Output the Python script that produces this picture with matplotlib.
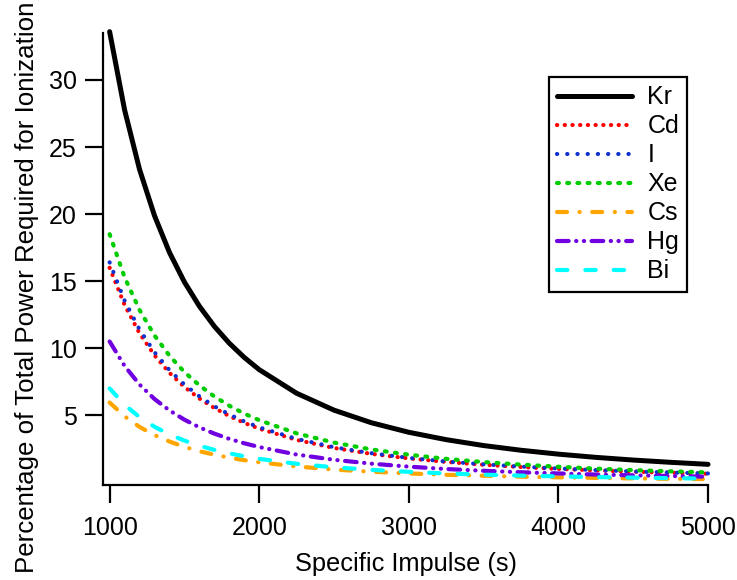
import matplotlib
matplotlib.use("Agg")
import matplotlib.pyplot as plt

plt.rcParams["font.family"] = ["Liberation Sans", "DejaVu Sans"]

# specific impulse (s)
isp = [1000, 1100, 1200, 1300, 1400, 1500, 1600, 1700, 1800, 1900, 2000,
       2250, 2500, 2750, 3000, 3250, 3500, 3750, 4000, 4250, 4500, 4750, 5000]

# percentage of total power required for ionization
kr = [33.6, 27.77, 23.33, 19.88, 17.14, 14.93, 13.13, 11.63, 10.37, 9.31, 8.40,
      6.64, 5.38, 4.44, 3.73, 3.18, 2.74, 2.39, 2.10, 1.86, 1.66, 1.49, 1.34]
cd = [16.0, 13.22, 11.11, 9.47, 8.16, 7.11, 6.25, 5.54, 4.94, 4.43, 4.00,
      3.16, 2.56, 2.12, 1.78, 1.52, 1.31, 1.14, 1.00, 0.89, 0.79, 0.71, 0.64]
iod = [16.4, 13.55, 11.39, 9.70, 8.37, 7.29, 6.41, 5.67, 5.06, 4.54, 4.10,
       3.24, 2.62, 2.17, 1.82, 1.55, 1.34, 1.17, 1.03, 0.91, 0.81, 0.73, 0.66]
xe = [18.5, 15.29, 12.85, 10.95, 9.44, 8.22, 7.23, 6.40, 5.71, 5.12, 4.63,
      3.65, 2.96, 2.45, 2.06, 1.75, 1.51, 1.32, 1.16, 1.02, 0.91, 0.82, 0.74]
cs = [5.95, 4.92, 4.13, 3.52, 3.04, 2.64, 2.32, 2.06, 1.84, 1.65, 1.49,
      1.18, 0.95, 0.79, 0.66, 0.56, 0.49, 0.42, 0.37, 0.33, 0.29, 0.26, 0.24]
hg = [10.5, 8.68, 7.29, 6.21, 5.36, 4.67, 4.10, 3.63, 3.24, 2.91, 2.63,
      2.07, 1.68, 1.39, 1.17, 0.99, 0.86, 0.75, 0.66, 0.58, 0.52, 0.47, 0.42]
bi = [7.0, 5.78, 4.86, 4.14, 3.57, 3.11, 2.73, 2.42, 2.16, 1.94, 1.75,
      1.38, 1.12, 0.93, 0.78, 0.66, 0.57, 0.50, 0.44, 0.39, 0.35, 0.31, 0.28]

series = [
    ("Kr", kr, "black", None, 3.6),
    ("Cd", cd, "#ff0000", (0.05, 1.8), 3.0),
    ("I", iod, "#1030d0", (0.05, 2.4), 3.0),
    ("Xe", xe, "#00cc00", (0.45, 2.0), 3.0),
    ("Cs", cs, "#ffa500", (2.4, 3.0, 0.05, 3.0), 3.0),
    ("Hg", hg, "#7000e0", (2.8, 1.8, 0.05, 1.8, 0.05, 1.8), 3.0),
    ("Bi", bi, "#00ffff", (2.5, 4.3), 3.0),
]

fig = plt.figure(figsize=(7.37, 5.8), dpi=100)
ax = fig.add_axes([0.1398, 0.1638, 0.8209, 0.7793])

for name, y, col, dash, lw in series:
    ln, = ax.plot(isp, y, color=col, lw=lw, label=name,
                  solid_capstyle="round", dash_capstyle="round", clip_on=False)
    if dash is not None:
        ln.set_dashes(dash)

ax.set_xlim(956, 5000)
ax.set_ylim(-0.2, 33.5)
ax.set_xticks([1000, 2000, 3000, 4000, 5000])
ax.set_yticks([5, 10, 15, 20, 25, 30])
for s in ["top", "right"]:
    ax.spines[s].set_visible(False)
for s in ["left", "bottom"]:
    ax.spines[s].set_linewidth(1.6)
ax.tick_params(axis="both", direction="out", length=13, width=1.6, labelsize=18)
ax.tick_params(axis="y", pad=6)
ax.tick_params(axis="x", pad=9)

ax.set_xlabel("Specific Impulse (s)", fontsize=18.3, labelpad=9)
ax.set_ylabel("Percentage of Total Power Required for Ionization", fontsize=18.6)
ax.yaxis.set_label_coords(-0.1066, 0.437)

leg = fig.legend(loc="upper left", bbox_to_anchor=(0.745, 0.867), fontsize=18,
                 handlelength=3.0, handletextpad=0.6, labelspacing=0.2,
                 borderpad=0.33, borderaxespad=0, fancybox=False, framealpha=1)
leg.get_frame().set_edgecolor("black")
leg.get_frame().set_linewidth(1.6)

fig.savefig("out.png", dpi=100)
